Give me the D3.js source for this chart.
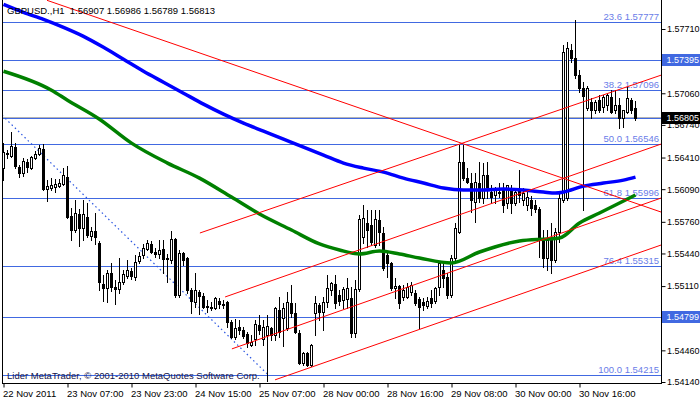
<!DOCTYPE html>
<html><head><meta charset="utf-8">
<script src="https://cdn.jsdelivr.net/npm/d3@7"></script>
<style>
html,body{margin:0;padding:0;background:#fff;}
svg text{font-family:"Liberation Sans",Arial,sans-serif;}
</style></head>
<body><svg id="c" width="700" height="402"></svg>
<script>
// ---------- DATA ----------
const titleText = "GBPUSD.,H1  1.56907 1.56986 1.56789 1.56813";
const copyrightText = "Lider MetaTrader, \u00A9 2001-2010 MetaQuotes Software Corp.";

const openP = [1.56303,1.56455,1.56424,1.56515,1.56313,1.56253,1.56364,1.56303,1.56404,1.56445,
1.56495,1.56091,1.56101,1.56111,1.56121,1.56142,1.56212,1.55818,1.55677,1.55839,
1.55697,1.55808,1.55616,1.55667,1.55546,1.55132,1.55091,1.55243,1.55101,1.55081,
1.55152,1.55212,1.55263,1.55202,1.55364,1.55425,1.55485,1.55536,1.55455,1.55435,
1.55485,1.55394,1.55374,1.55586,1.55021,1.55445,1.55394,1.55071,1.54950,1.55051,
1.55010,1.54899,1.54899,1.54889,1.54960,1.54930,1.54950,1.54748,1.54596,1.54697,
1.54667,1.54627,1.54516,1.54576,1.54718,1.54576,1.54617,1.54687,1.54617,1.54869,
1.54788,1.54687,1.54940,1.54839,1.54637,1.54334,1.54435,1.54314,1.54839,1.54920,
1.54849,1.54950,1.55071,1.55132,1.55021,1.54970,1.54980,1.54990,1.54637,1.55081,
1.55606,1.55748,1.55728,1.55525,1.55778,1.55647,1.55425,1.55344,1.55091,1.55111,
1.55000,1.55000,1.55051,1.55041,1.54980,1.54950,1.54909,1.54990,1.54960,1.55101,
1.55273,1.55202,1.55021,1.55394,1.55657,1.56364,1.56202,1.56152,1.55960,1.56152,
1.56000,1.56233,1.56061,1.56031,1.56061,1.56081,1.55950,1.56081,1.55950,1.56081,
1.55980,1.55930,1.55980,1.55930,1.55889,1.55596,1.55394,1.55576,1.55374,1.55657,
1.55980,1.56000,1.57495,1.57414,1.57243,1.57111,1.56909,1.56970,1.56889,1.56990,
1.56919,1.56940,1.57020,1.56889,1.56940,1.56808,1.56869,1.56990,1.56907];

const highP = [1.56556,1.56485,1.56667,1.56556,1.56334,1.56404,1.56394,1.56424,1.56475,1.56535,
1.56546,1.56182,1.56202,1.56192,1.56192,1.56303,1.56323,1.55899,1.55980,1.55889,
1.55980,1.55950,1.55707,1.55849,1.55566,1.55223,1.55273,1.55344,1.55172,1.55394,
1.55273,1.55374,1.55293,1.55425,1.55455,1.55536,1.55576,1.55566,1.55495,1.55576,
1.55576,1.55435,1.55667,1.55596,1.55475,1.55455,1.55404,1.55091,1.55243,1.55071,
1.55041,1.54970,1.54950,1.55000,1.54990,1.54970,1.54960,1.54768,1.54778,1.54768,
1.54697,1.54647,1.54617,1.54768,1.54818,1.54768,1.54818,1.54697,1.54899,1.55000,
1.54940,1.55051,1.55122,1.54940,1.54667,1.54445,1.54445,1.54526,1.55010,1.54940,
1.55000,1.55223,1.55152,1.55223,1.55071,1.55101,1.55192,1.55101,1.55172,1.55828,
1.55930,1.55879,1.55879,1.55879,1.55879,1.55707,1.55455,1.55354,1.55192,1.55122,
1.55122,1.55142,1.55152,1.55071,1.55000,1.54990,1.55000,1.55071,1.55101,1.55354,
1.55354,1.55243,1.55425,1.55748,1.56535,1.56535,1.56303,1.56253,1.56253,1.56364,
1.56354,1.56364,1.56132,1.56111,1.56152,1.56152,1.56132,1.56132,1.56101,1.56283,
1.56101,1.56081,1.56020,1.55980,1.55909,1.55677,1.55677,1.55748,1.55697,1.56061,
1.57545,1.57576,1.57556,1.57798,1.57293,1.57172,1.57131,1.57010,1.56990,1.57040,
1.57040,1.57061,1.57091,1.57091,1.57010,1.56889,1.57121,1.57010,1.56986];

const lowP = [1.56182,1.56404,1.56414,1.56303,1.56212,1.56222,1.56263,1.56293,1.56394,1.56435,
1.56081,1.55970,1.56081,1.56061,1.56111,1.56132,1.55798,1.55576,1.55657,1.55515,
1.55576,1.55606,1.55576,1.55536,1.55071,1.54960,1.54950,1.55061,1.54930,1.55041,
1.55132,1.55192,1.55182,1.55172,1.55344,1.55394,1.55475,1.55445,1.55404,1.55394,
1.55243,1.55152,1.55344,1.55000,1.55000,1.55324,1.55041,1.54839,1.54899,1.54829,
1.54889,1.54849,1.54869,1.54879,1.54889,1.54889,1.54697,1.54586,1.54576,1.54627,
1.54586,1.54495,1.54505,1.54516,1.54627,1.54516,1.54152,1.54566,1.54566,1.54596,
1.54505,1.54667,1.54798,1.54637,1.54324,1.54314,1.54303,1.54303,1.54617,1.54768,
1.54667,1.54899,1.55021,1.54889,1.54920,1.54889,1.54889,1.54596,1.54596,1.55061,
1.55546,1.55505,1.55525,1.55505,1.55525,1.55273,1.55202,1.55071,1.54990,1.54889,
1.54970,1.54990,1.55021,1.54920,1.54687,1.54869,1.54889,1.54899,1.54940,1.55021,
1.55101,1.54990,1.55000,1.55374,1.55647,1.56182,1.56152,1.55859,1.55758,1.55960,
1.55950,1.56000,1.55950,1.55950,1.56010,1.55859,1.55899,1.55849,1.55930,1.55960,
1.55930,1.55879,1.55828,1.55859,1.55404,1.55303,1.55273,1.55243,1.55354,1.55556,
1.55960,1.55980,1.57374,1.57212,1.57071,1.55879,1.56889,1.56808,1.56859,1.56869,
1.56869,1.56889,1.56859,1.56859,1.56707,1.56717,1.56859,1.56859,1.56789];

const closeP = [1.56465,1.56445,1.56525,1.56323,1.56253,1.56374,1.56313,1.56414,1.56445,1.56505,
1.56091,1.56121,1.56132,1.56142,1.56152,1.56233,1.55808,1.55677,1.55849,1.55697,
1.55839,1.55627,1.55667,1.55606,1.55152,1.55091,1.55243,1.55101,1.55081,1.55152,
1.55233,1.55273,1.55212,1.55354,1.55414,1.55495,1.55546,1.55455,1.55435,1.55475,
1.55384,1.55384,1.55586,1.55021,1.55445,1.55374,1.55071,1.54960,1.55071,1.55010,
1.54899,1.54909,1.54889,1.54990,1.54930,1.54920,1.54748,1.54596,1.54687,1.54667,
1.54606,1.54536,1.54546,1.54728,1.54667,1.54697,1.54707,1.54617,1.54889,1.54647,
1.54889,1.54950,1.54839,1.54647,1.54334,1.54435,1.54314,1.54516,1.54940,1.54849,
1.54950,1.55091,1.55142,1.54940,1.54960,1.55081,1.55091,1.54637,1.55081,1.55788,
1.55798,1.55677,1.55556,1.55788,1.55657,1.55293,1.55344,1.55091,1.55111,1.54940,
1.55071,1.55101,1.55122,1.54940,1.54899,1.54920,1.54960,1.54940,1.55091,1.55344,
1.55192,1.55021,1.55394,1.55697,1.56364,1.56202,1.56162,1.55980,1.56162,1.56000,
1.56233,1.56111,1.56010,1.56081,1.56051,1.55930,1.56132,1.55950,1.56061,1.56031,
1.56051,1.56010,1.55899,1.55889,1.55596,1.55394,1.55576,1.55374,1.55657,1.56000,
1.57475,1.57515,1.57414,1.57243,1.57111,1.57030,1.57111,1.56889,1.56970,1.56889,
1.57020,1.57040,1.56869,1.56940,1.56808,1.56889,1.57010,1.56889,1.56813];

// moving averages, sampled at bar indices
const blueMaIdx = [0,5,10,15,20,25,30,35,40,45,50,55,60,65,70,75,80,85,90,95,100,105,110,115,120,125,130,135,138,140,145,150,155,158];
const blueMaVal = [1.57960,1.57879,1.57808,1.57727,1.57636,1.57525,1.57404,1.57283,1.57172,1.57061,1.56950,1.56849,1.56758,1.56677,1.56596,1.56515,1.56435,1.56354,1.56303,1.56263,1.56202,1.56152,1.56101,1.56081,1.56081,1.56091,1.56081,1.56061,1.56051,1.56061,1.56121,1.56152,1.56182,1.56212];
const greenMaIdx = [0,12,16,24,32,41,49,57,64,72,79,84,89,94,99,104,112,119,129,136,139,144,149,158];
const greenMaVal = [1.57283,1.57091,1.56990,1.56798,1.56556,1.56354,1.56202,1.56010,1.55839,1.55677,1.55536,1.55475,1.55435,1.55465,1.55435,1.55394,1.55344,1.55455,1.55566,1.55586,1.55596,1.55748,1.55849,1.56031];

// trend lines (bar index / price endpoints)
const trendX1 = [10.875, 49.1, 55.4, 57.1, 67.9];
const trendY1 = [1.58000, 1.55647, 1.55000, 1.54475, 1.54162];
const trendX2 = [164.375, 164.375, 164.375, 164.375, 164.375];
const trendY2 = [1.55859, 1.57243, 1.56546, 1.56000, 1.55525];
const fibDiagX = [-0.375, 66.1];
const fibDiagY = [1.56838, 1.54215];

const hLevels = [1.57777,1.57395,1.57096,1.56805,1.56546,1.55996,1.55315,1.54799,1.54215];
const fibLevels = [1.57777,1.57096,1.56546,1.55996,1.55315,1.54215];
const fibLabels = ["23.6 1.57777","38.2 1.57096","50.0 1.56546","61.8 1.55996","76.4 1.55315","100.0 1.54215"];
const markLevels = [1.57395,1.56805,1.54799];
const markLabels = ["1.57395","1.56805","1.54799"];

const yTicks = [1.57710,1.57390,1.57060,1.56740,1.56410,1.56090,1.55760,1.55440,1.55110,1.54790,1.54460,1.54140];
const xTickIdx = [0,16,32,48,64,80,96,112,128,144];
const xLabels = ["22 Nov 2011","23 Nov 07:00","23 Nov 23:00","24 Nov 15:00","25 Nov 07:00","28 Nov 00:00","28 Nov 16:00","29 Nov 08:00","30 Nov 00:00","30 Nov 16:00"];

// ---------- DRAW ----------
const svg = d3.select("#c");
const L = 2, R = 661, T = 0, B = 383;
const x = d3.scaleLinear().domain([0, 164.375]).range([3.5, 661]);
const y = d3.scaleLinear().domain([1.54140, 1.57710]).range([382, 29]);
const FS = "9.5px";
const AFS = "9px";
const lineBlue = "#4169e1";

svg.append("rect").attr("width",700).attr("height",402).attr("fill","#fff");
svg.append("defs").append("clipPath").attr("id","pc")
  .append("rect").attr("x",L).attr("y",T).attr("width",R-L).attr("height",B-T);
const plot = svg.append("g").attr("clip-path","url(#pc)");

// horizontal lines
plot.append("line").attr("x1",L).attr("x2",R)
  .attr("y1",Math.round(y(closeP[closeP.length-1]))-0.5).attr("y2",Math.round(y(closeP[closeP.length-1]))-0.5)
  .attr("stroke","#b4b4b4").attr("stroke-width",1);
plot.selectAll(".hl").data(hLevels).enter().append("line")
  .attr("x1",L).attr("x2",R)
  .attr("y1",d=>Math.round(y(d))+0.5).attr("y2",d=>Math.round(y(d))+0.5)
  .attr("stroke",lineBlue).attr("stroke-width",1);

// fib labels
plot.selectAll(".fl").data(fibLevels).enter().append("text")
  .attr("x",659).attr("y",d=>Math.round(y(d))-2)
  .attr("text-anchor","end").attr("font-size",FS).attr("fill","#6a7de8")
  .text((d,i)=>fibLabels[i]);

// fib diagonal (dotted)
plot.append("line")
  .attr("x1",x(fibDiagX[0])).attr("y1",y(fibDiagY[0]))
  .attr("x2",x(fibDiagX[1])).attr("y2",y(fibDiagY[1]))
  .attr("stroke","#2a55e0").attr("stroke-width",1.2).attr("stroke-dasharray","1.5,3");

// candles
const bars = d3.range(openP.length);
const cg = plot.append("g").attr("shape-rendering","crispEdges");
cg.selectAll(".wick").data(bars).enter().append("line")
  .attr("x1",i=>x(i)).attr("x2",i=>x(i))
  .attr("y1",i=>Math.round(y(highP[i]))).attr("y2",i=>Math.round(y(lowP[i]))+1)
  .attr("stroke","#000").attr("stroke-width",1);
cg.selectAll(".body").data(bars).enter().append("rect")
  .attr("x",i=>x(i)-1).attr("width",2)
  .attr("y",i=>Math.round(y(Math.max(openP[i],closeP[i])))+0.5)
  .attr("height",i=>Math.max(0.01, Math.round(y(Math.min(openP[i],closeP[i])))-Math.round(y(Math.max(openP[i],closeP[i])))))
  .attr("fill",i=>closeP[i]>=openP[i]?"#fff":"#000")
  .attr("stroke","#000").attr("stroke-width",1);

// moving averages
const ln = d3.line().x(d=>x(d[0])).y(d=>y(d[1])).curve(d3.curveMonotoneX);
plot.append("path").datum(greenMaIdx.map((d,i)=>[d,greenMaVal[i]]))
  .attr("d",ln).attr("fill","none").attr("stroke","#008000").attr("stroke-width",3.5);
plot.append("path").datum(blueMaIdx.map((d,i)=>[d,blueMaVal[i]]))
  .attr("d",ln).attr("fill","none").attr("stroke","#0000ff").attr("stroke-width",3.5);

// red trend lines
plot.selectAll(".tl").data(trendX1).enter().append("line")
  .attr("x1",(d,i)=>x(trendX1[i])).attr("y1",(d,i)=>y(trendY1[i]))
  .attr("x2",(d,i)=>x(trendX2[i])).attr("y2",(d,i)=>y(trendY2[i]))
  .attr("stroke","#ff0000").attr("stroke-width",1);

// title & copyright
svg.append("text").attr("x",7).attr("y",14).attr("font-size",FS).attr("fill","#000")
  .style("white-space","pre").text(titleText);
svg.append("text").attr("x",7).attr("y",379).attr("font-size",FS).attr("fill","#14144a")
  .text(copyrightText);

// right axis
const ya = svg.append("g").attr("transform",`translate(${R+0.5},0)`)
  .call(d3.axisRight(y).tickValues(yTicks).tickSize(4).tickPadding(1.5).tickFormat(d3.format(".5f")));
ya.select(".domain").remove();
ya.selectAll("text").attr("font-size",AFS).attr("font-family","Liberation Sans, Arial, sans-serif").attr("fill","#000");
ya.selectAll("line").attr("stroke","#000");

// marked price labels
const markBg = ["#4169e1","#000","#4169e1"];
markLevels.forEach((lv,i)=>{
  const py = Math.round(y(lv));
  svg.append("rect").attr("x",R+1).attr("y",py-6).attr("width",700-R-1).attr("height",12).attr("fill",markBg[i]);
  svg.append("text").attr("x",R+5.5).attr("y",py).attr("dy","0.34em").attr("font-size",AFS).attr("fill","#fff").text(markLabels[i]);
});

// bottom axis
const xa = svg.append("g").attr("transform",`translate(0,${B+0.5})`)
  .call(d3.axisBottom(x).tickValues(xTickIdx).tickSize(4).tickPadding(3).tickFormat((d,i)=>xLabels[i]));
xa.select(".domain").remove();
xa.selectAll("text").attr("font-size",FS).attr("font-family","Liberation Sans, Arial, sans-serif").attr("fill","#000").attr("text-anchor","start").attr("dx","-1");
xa.selectAll("line").attr("stroke","#000");

// frame
svg.append("line").attr("x1",L).attr("x2",R+1).attr("y1",B+0.5).attr("y2",B+0.5).attr("stroke","#000");
svg.append("line").attr("x1",L+0.5).attr("x2",L+0.5).attr("y1",T).attr("y2",B+1).attr("stroke","#000");
svg.append("line").attr("x1",R+0.5).attr("x2",R+0.5).attr("y1",T).attr("y2",B+1).attr("stroke","#000");
</script></body></html>
